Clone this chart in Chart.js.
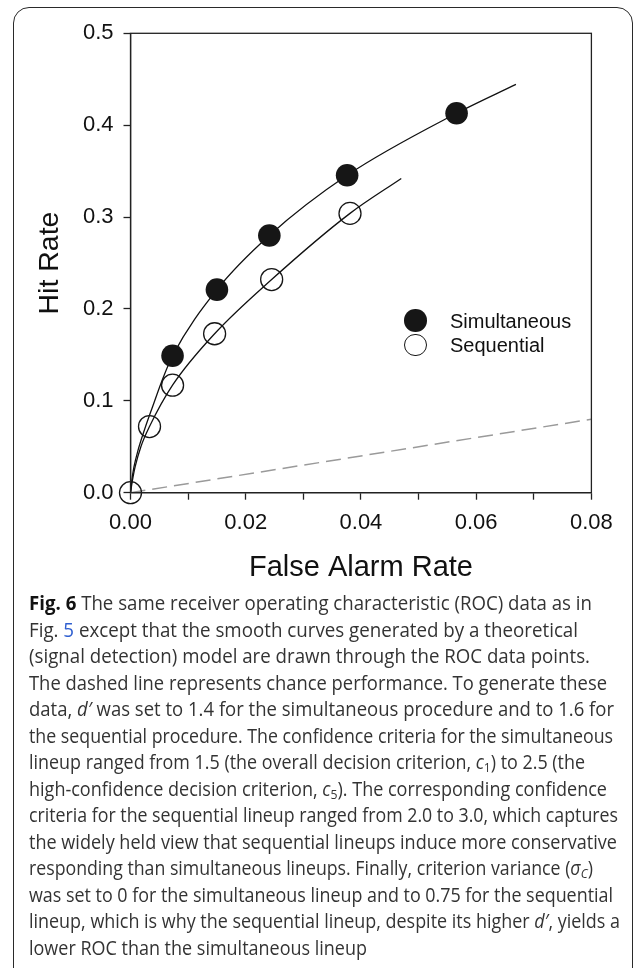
<!DOCTYPE html>
<html>
<head>
<meta charset="utf-8">
<script src="https://cdn.jsdelivr.net/npm/chart.js@4.4.1/dist/chart.umd.min.js"></script>
<style>
    html, body {
        margin: 0;
        padding: 0;
        background: #fff;
        width: 633px;
        height: 968px;
        overflow: hidden;
    }

    #frame {
        position: absolute;
        left: 13px;
        top: 7px;
        width: 620px;
        height: 1000px;
        box-sizing: border-box;
        border: 1.6px solid #2a2a2a;
        border-radius: 16px;
    }

    #myChart {
        position: absolute;
        left: 0;
        top: 0;
    }

    .key {
        position: absolute;
        font-family: "Liberation Sans", Arial, sans-serif;
        font-size: 20px;
        line-height: 20px;
        color: #111;
        white-space: nowrap;
    }

    .dot {
        position: absolute;
        width: 22.6px;
        height: 22.6px;
        box-sizing: border-box;
        border-radius: 50%;
    }

    #caption {
        position: absolute;
        left: 29px;
        top: 590px;
        font-family: "Open Sans", sans-serif;
        font-size: 19.5px;
        line-height: 26.5px;
        color: #333;
        white-space: nowrap;
    }

    #caption .ln {
        display: block;
        height: 26.5px;
        transform-origin: 0 0;
    }

    #caption b {
        color: #111;
    }

    #caption sub {
        font-size: 0.68em;
        line-height: 0;
        vertical-align: -0.25em;
    }

    #caption .link {
        color: #2f5fd0;
    }
</style>
</head>
<body>
<div id="frame"></div>
<canvas id="myChart" width="633" height="590"></canvas>

<div class="dot" style="left:404.4px; top:309.4px; background:#161616;"></div>
<div class="key" style="left:450px; top:310.5px;">Simultaneous</div>
<div class="dot" style="left:404.4px; top:333.7px; border:1.3px solid #161616;"></div>
<div class="key" style="left:450px; top:335px;">Sequential</div>

<div id="caption">
    <div class="ln"><b>Fig. 6</b> The same receiver operating characteristic (ROC) data as in</div>
    <div class="ln">Fig. <span class="link">5</span> except that the smooth curves generated by a theoretical</div>
    <div class="ln">(signal detection) model are drawn through the ROC data points.</div>
    <div class="ln">The dashed line represents chance performance. To generate these</div>
    <div class="ln">data, <i>d′</i> was set to 1.4 for the simultaneous procedure and to 1.6 for</div>
    <div class="ln">the sequential procedure. The confidence criteria for the simultaneous</div>
    <div class="ln">lineup ranged from 1.5 (the overall decision criterion, <i>c</i><sub>1</sub>) to 2.5 (the</div>
    <div class="ln">high-confidence decision criterion, <i>c</i><sub>5</sub>). The corresponding confidence</div>
    <div class="ln">criteria for the sequential lineup ranged from 2.0 to 3.0, which captures</div>
    <div class="ln">the widely held view that sequential lineups induce more conservative</div>
    <div class="ln">responding than simultaneous lineups. Finally, criterion variance (<i>σ<sub>C</sub></i>)</div>
    <div class="ln">was set to 0 for the simultaneous lineup and to 0.75 for the sequential</div>
    <div class="ln">lineup, which is why the sequential lineup, despite its higher <i>d′</i>, yields a</div>
    <div class="ln">lower ROC than the simultaneous lineup</div>
</div>

<script>
// data
const simFalseAlarm = [0.0073, 0.0150, 0.0241, 0.0376, 0.0566];
const simHit = [0.149, 0.221, 0.280, 0.3455, 0.413];

const seqFalseAlarm = [0, 0.0033, 0.0073, 0.0146, 0.0245, 0.0381];
const seqHit = [0, 0.072, 0.117, 0.173, 0.232, 0.304];

// model curves
const simCurveFalseAlarm = [0, 0.0002, 0.0006, 0.0013, 0.0024, 0.0038, 0.0055, 0.0073, 0.0150, 0.0241, 0.0376, 0.0566, 0.0669];
const simCurveHit = [0, 0.012, 0.028, 0.046, 0.068, 0.093, 0.1224, 0.149, 0.221, 0.280, 0.3455, 0.413, 0.4444];

const seqCurveFalseAlarm = [0, 0.0003, 0.0008, 0.0018, 0.0033, 0.0073, 0.0146, 0.0245, 0.0381, 0.0470];
const seqCurveHit = [0, 0.012, 0.028, 0.050, 0.072, 0.117, 0.173, 0.232, 0.304, 0.342];

// chance line
const chanceFalseAlarm = [0, 0.08];
const chanceHit = [0, 0.08];

const xTickValues = [0, 0.02, 0.04, 0.06, 0.08];
const xTickLabels = ["0.00", "0.02", "0.04", "0.06", "0.08"];
const yTickLabels = ["0.0", "0.1", "0.2", "0.3", "0.4", "0.5"];

// right edge of each caption line in the original layout (px)
const captionLineEnds = [592, 578, 590, 607, 614, 613, 585, 607, 618, 617, 593, 613, 620, 367];


function toPoints(xs, ys) {
    return xs.map((x, i) => ({ x: x, y: ys[i] }));
}

const axisColor = "#222";

const frameBox = {
    id: "frameBox",
    afterDraw(chart) {
        const a = chart.chartArea;
        const ctx = chart.ctx;
        ctx.save();
        ctx.strokeStyle = axisColor;
        ctx.lineWidth = 1.3;
        ctx.strokeRect(a.left, a.top, a.right - a.left, a.bottom - a.top);
        ctx.restore();
    }
};

function diagram() {
    new Chart("myChart", {
        type: "scatter",
        data: {
            datasets: [{
                label: "Simultaneous",
                data: toPoints(simFalseAlarm, simHit),
                pointRadius: 11.3,
                pointBackgroundColor: "#161616",
                pointBorderColor: "#161616",
                pointBorderWidth: 0,
                clip: false
            }, {
                label: "Sequential",
                data: toPoints(seqFalseAlarm, seqHit),
                pointRadius: 11,
                pointBackgroundColor: "rgba(0,0,0,0)",
                pointBorderColor: "#161616",
                pointBorderWidth: 1.3,
                clip: false
            }, {
                label: "Simultaneous model",
                data: toPoints(simCurveFalseAlarm, simCurveHit),
                showLine: true,
                cubicInterpolationMode: "monotone",
                borderColor: "#111",
                borderWidth: 1.3,
                pointRadius: 0
            }, {
                label: "Sequential model",
                data: toPoints(seqCurveFalseAlarm, seqCurveHit),
                showLine: true,
                cubicInterpolationMode: "monotone",
                borderColor: "#111",
                borderWidth: 1.3,
                pointRadius: 0
            }, {
                label: "Chance",
                data: toPoints(chanceFalseAlarm, chanceHit),
                showLine: true,
                borderColor: "#9a9a9a",
                borderWidth: 1.5,
                borderDash: [15, 7],
                pointRadius: 0
            }]
        },
        options: {
            responsive: false,
            animation: false,
            devicePixelRatio: 1,
            layout: {
                padding: { left: 0, top: 33.3, right: 41.6, bottom: 0 }
            },
            plugins: {
                legend: { display: false },
                tooltip: { enabled: false }
            },
            scales: {
                x: {
                    type: "linear",
                    min: 0,
                    max: 0.08,
                    afterFit: (s) => {
                        s.height = 97.3;
                        s.paddingLeft = 0;
                        s.paddingRight = 0;
                    },
                    border: { color: axisColor, width: 1.3 },
                    grid: {
                        drawOnChartArea: false,
                        tickLength: 7,
                        tickColor: axisColor,
                        tickWidth: 1.3
                    },
                    ticks: {
                        stepSize: 0.01,
                        autoSkip: false,
                        maxRotation: 0,
                        minRotation: 0,
                        padding: 10,
                        color: "#111",
                        font: { family: "Liberation Sans", size: 22 },
                        callback: (v) => {
                            const i = xTickValues.findIndex(t => Math.abs(t - v) < 1e-9);
                            return i >= 0 ? xTickLabels[i] : "";
                        }
                    },
                    title: {
                        display: true,
                        text: "False Alarm Rate",
                        color: "#111",
                        font: { family: "Liberation Sans", size: 29 },
                        padding: { top: 0, bottom: 4.6 }
                    }
                },
                y: {
                    type: "linear",
                    min: 0,
                    max: 0.5,
                    afterFit: (s) => {
                        s.width = 130.5;
                        s.paddingTop = 0;
                        s.paddingBottom = 0;
                    },
                    border: { color: axisColor, width: 1.3 },
                    grid: {
                        drawOnChartArea: false,
                        tickLength: 7,
                        tickColor: axisColor,
                        tickWidth: 1.3
                    },
                    ticks: {
                        stepSize: 0.1,
                        padding: 10,
                        color: "#111",
                        font: { family: "Liberation Sans", size: 22 },
                        callback: (v) => yTickLabels[Math.round(v * 10)]
                    },
                    title: {
                        display: true,
                        text: "Hit Rate",
                        color: "#111",
                        font: { family: "Liberation Sans", size: 28.5 },
                        padding: { top: 33, bottom: 0 }
                    }
                }
            }
        },
        plugins: [frameBox]
    });
}

// squeeze each caption line so it ends where it does in the original
function fitCaption() {
    const cap = document.getElementById("caption");
    const left = cap.getBoundingClientRect().left;
    cap.querySelectorAll(".ln").forEach((ln, i) => {
        ln.style.display = "inline-block";
        const w = ln.getBoundingClientRect().width;
        ln.style.display = "block";
        if (w > 0) ln.style.transform = "scaleX(" + ((captionLineEnds[i] - left) / w) + ")";
    });
}

diagram();
fitCaption();
</script>
</body>
</html>
